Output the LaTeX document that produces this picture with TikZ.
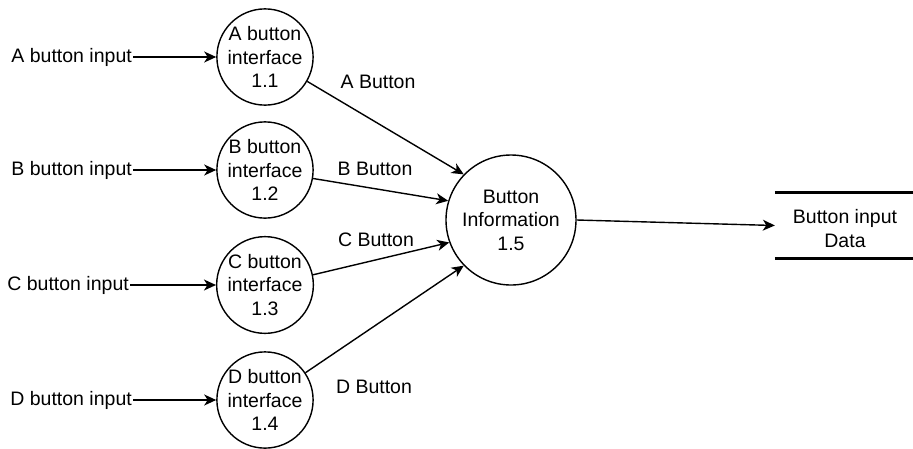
\documentclass[tikz,border=0pt]{standalone}
\usepackage{fontspec}
\setmainfont{Liberation Sans}
\usetikzlibrary{arrows.meta,positioning}

\begin{document}
\begin{tikzpicture}[x=1pt,y=-1pt,font=\fontsize{19.5}{23.4}\selectfont,
  proc/.style={draw,circle,line width=1.4pt,minimum size=96pt,inner sep=0pt,align=center},
  bigproc/.style={draw,circle,line width=1.4pt,minimum size=130pt,inner sep=0pt,align=center},
  flow/.style={-{Stealth[length=12pt,width=11pt,inset=3.5pt]},line width=1.4pt},
  inp/.style={anchor=east,inner sep=0pt}]
  \useasboundingbox (0,0) rectangle (913,448);

  % processes
  \node[proc] (p1) at (265,57) {A button\\interface\\1.1};
  \node[proc] (p2) at (265,170) {B button\\interface\\1.2};
  \node[proc] (p3) at (265,285) {C button\\interface\\1.3};
  \node[proc] (p4) at (265,400) {D button\\interface\\1.4};
  \node[bigproc] (info) at (511,220) {Button\\Information\\1.5};

  % inputs
  \node[inp] (in1) at (132,57) {A button input};
  \node[inp] (in2) at (132,170) {B button input};
  \node[inp] (in3) at (129,285) {C button input};
  \node[inp] (in4) at (132,400) {D button input};

  % data store
  \node[align=center,minimum width=138pt,minimum height=65pt,inner sep=0pt] (store) at (844,225.5) {};
  \node[align=center] (storetxt) at (845,228.5) {Button input\\Data};
  \draw[line width=3pt] (store.north west) -- (store.north east);
  \draw[line width=3pt] (store.south west) -- (store.south east);

  \draw[flow,shorten <=1pt] (in1) -- (p1);
  \draw[flow,shorten <=1pt] (in2) -- (p2);
  \draw[flow,shorten <=1pt] (in3) -- (p3);
  \draw[flow,shorten <=1pt] (in4) -- (p4);

  \draw[flow] (p1.-30) -- (info.136);
  \draw[flow] (p2.-10) -- (info.163);
  \draw[flow] (p3.12) -- (info.200);
  \draw[flow] (p4.34) -- (info.224);
  \draw[flow] (info.east) -- (store.west);

  \node (lblA) at (378,82) {A Button};
  \node (lblB) at (375,169) {B Button};
  \node (lblC) at (376,240) {C Button};
  \node (lblD) at (374,387) {D Button};
\end{tikzpicture}
\end{document}
